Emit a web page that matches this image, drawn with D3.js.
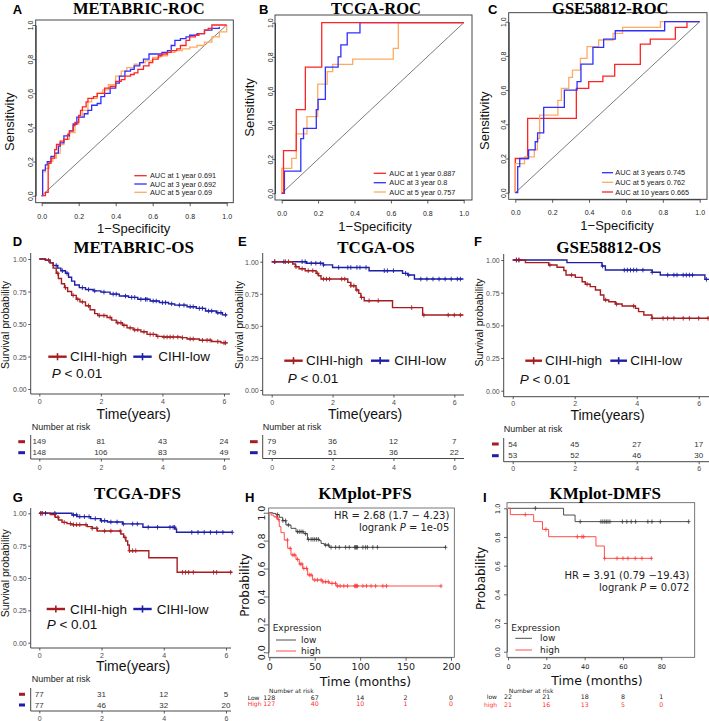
<!DOCTYPE html>
<html><head><meta charset="utf-8">
<script src="https://cdn.jsdelivr.net/npm/d3@7"></script>
<style>body{margin:0;background:#fff}svg{display:block}</style>
</head><body>
<svg id="c" width="709" height="721"></svg>
<script>
// ================= DATA =================
const rocTicks = [0, 0.2, 0.4, 0.6, 0.8, 1.0];
// ROC curves: [1-specificity, sensitivity] at each vertical jump
const metabricRoc1y = [[0,0],[0.02,0.02],[0.035,0.19],[0.05,0.22],[0.07,0.27],[0.08,0.3],[0.1,0.32],[0.12,0.33],[0.14,0.36],[0.15,0.38],[0.17,0.41],[0.18,0.43],[0.2,0.47],[0.21,0.5],[0.22,0.52],[0.24,0.55],[0.25,0.57],[0.28,0.58],[0.3,0.6],[0.34,0.63],[0.37,0.64],[0.4,0.67],[0.43,0.68],[0.45,0.7],[0.48,0.71],[0.5,0.72],[0.52,0.74],[0.55,0.76],[0.58,0.78],[0.6,0.8],[0.63,0.82],[0.65,0.83],[0.68,0.84],[0.7,0.85],[0.73,0.86],[0.75,0.88],[0.78,0.91],[0.8,0.93],[0.83,0.94],[0.85,0.95],[0.88,0.97],[0.9,0.98],[0.92,1.0],[1.0,1.0]];
const metabricRoc3y = [[0,0],[0.005,0.15],[0.02,0.18],[0.03,0.2],[0.05,0.23],[0.07,0.25],[0.09,0.29],[0.1,0.31],[0.12,0.35],[0.15,0.38],[0.17,0.42],[0.19,0.46],[0.23,0.48],[0.25,0.5],[0.27,0.53],[0.3,0.54],[0.32,0.58],[0.34,0.6],[0.37,0.63],[0.4,0.66],[0.42,0.7],[0.45,0.73],[0.48,0.74],[0.5,0.76],[0.53,0.78],[0.55,0.8],[0.58,0.83],[0.65,0.84],[0.68,0.85],[0.7,0.88],[0.72,0.91],[0.75,0.92],[0.78,0.93],[0.8,0.94],[0.84,0.95],[0.88,0.97],[0.92,0.98],[0.96,0.99]];
const metabricRoc5y = [[0,0],[0.005,0.14],[0.02,0.16],[0.04,0.2],[0.06,0.22],[0.08,0.25],[0.1,0.3],[0.12,0.33],[0.15,0.37],[0.18,0.42],[0.2,0.46],[0.22,0.5],[0.25,0.55],[0.27,0.57],[0.3,0.6],[0.33,0.62],[0.36,0.65],[0.4,0.7],[0.43,0.73],[0.46,0.75],[0.5,0.77],[0.53,0.78],[0.56,0.79],[0.6,0.81],[0.64,0.82],[0.68,0.84],[0.72,0.85],[0.76,0.86],[0.8,0.87],[0.84,0.88],[0.88,0.9],[0.92,0.93],[0.96,0.96],[1.0,1.0]];
const metabricRocLabels = ["AUC at 1 year 0.691", "AUC at 3 year 0.692", "AUC at 5 year 0.69"];

const tcgaRoc1y = [[0,0],[0.01,0.25],[0.08,0.49],[0.13,0.74],[0.22,1.0],[1.0,1.0]];
const tcgaRoc3y = [[0,0],[0.015,0.13],[0.105,0.32],[0.12,0.38],[0.19,0.49],[0.2,0.55],[0.24,0.74],[0.31,0.8],[0.325,0.87],[0.36,0.94],[0.43,1.0],[1.0,1.0]];
const tcgaRoc5y = [[0,0],[0.0,0.146],[0.055,0.205],[0.08,0.348],[0.139,0.45],[0.198,0.64],[0.25,0.713],[0.28,0.756],[0.39,0.787],[0.613,0.85],[0.641,1.0],[1.0,1.0]];
const tcgaRocLabels = ["AUC at 1 year 0.887", "AUC at 3 year 0.8", "AUC at 5 year 0.757"];

const gseRoc3y = [[0,0],[0.013,0.152],[0.024,0.2],[0.072,0.25],[0.108,0.298],[0.121,0.35],[0.154,0.499],[0.266,0.6],[0.335,0.649],[0.356,0.752],[0.421,0.85],[0.479,0.898],[0.542,0.947],[0.81,1.0],[1.0,1.0]];
const gseRoc5y = [[0,0],[0.0,0.17],[0.05,0.21],[0.103,0.25],[0.12,0.318],[0.132,0.454],[0.231,0.54],[0.25,0.61],[0.29,0.674],[0.31,0.717],[0.353,0.785],[0.389,0.854],[0.452,0.893],[0.53,0.932],[0.582,0.967],[0.787,1.0],[1.0,1.0]];
const gseRoc10y = [[0,0],[0.0,0.2],[0.067,0.435],[0.331,0.61],[0.398,0.649],[0.475,0.682],[0.539,0.75],[0.678,0.869],[0.732,0.898],[0.868,0.967],[0.931,1.0],[1.0,1.0]];
const gseRocLabels = ["AUC at 3 years 0.745", "AUC at 5 years 0.762", "AUC at 10 years 0.665"];

const kmYearTicks = [0, 2, 4, 6];
const kmProbTicks = [0, 0.25, 0.5, 0.75, 1.0];
const groupLabels = ["CIHI-high", "CIHI-low"];

// KM steps: [time, survival after drop]
const metabricOsHigh = [[0,1],[0.2,0.99],[0.35,0.97],[0.45,0.93],[0.55,0.89],[0.62,0.85],[0.72,0.81],[0.82,0.78],[0.92,0.75],[1.05,0.72],[1.2,0.69],[1.32,0.67],[1.5,0.64],[1.65,0.61],[1.8,0.58],[1.9,0.565],[2.2,0.55],[2.35,0.53],[2.5,0.51],[2.7,0.49],[2.85,0.47],[3.05,0.455],[3.3,0.44],[3.5,0.42],[3.8,0.405],[4.0,0.4],[4.6,0.395],[4.8,0.385],[5.2,0.375],[5.6,0.365],[5.9,0.355],[6.1,0.35]];
const metabricOsLow = [[0,1],[0.2,0.99],[0.35,0.97],[0.45,0.95],[0.6,0.93],[0.7,0.91],[0.85,0.89],[0.95,0.86],[1.05,0.83],[1.15,0.8],[1.3,0.78],[1.5,0.765],[1.75,0.755],[2.0,0.745],[2.3,0.73],[2.6,0.715],[2.9,0.705],[3.2,0.69],[3.6,0.677],[3.9,0.665],[4.2,0.655],[4.4,0.645],[4.8,0.633],[5.1,0.62],[5.4,0.6],[5.75,0.587],[5.95,0.57],[6.1,0.57]];
const metabricOsHighCens = [0.3,0.6,0.85,1.1,1.25,1.4,1.6,1.95,2.1,2.3,2.55,2.65,2.75,2.95,3.1,3.2,3.4,3.6,3.7,3.85,4.05,4.15,4.25,4.35,4.5,4.65,4.9,5.0,5.3,5.45,5.55,5.8,6.0,6.05];
const metabricOsLowCens = [0.55,0.75,0.9,1.4,1.6,1.8,2.1,2.4,2.5,2.8,3.0,3.1,3.3,3.45,3.5,3.7,3.8,4.0,4.1,4.3,4.55,4.7,4.9,5.0,5.2,5.3,5.5,5.6,5.8,5.9,6.05];
const metabricRiskHigh = [149, 81, 43, 24];
const metabricRiskLow = [148, 106, 83, 49];

const tcgaOsHigh = [[0,1],[0.69,0.982],[0.78,0.961],[0.9,0.945],[1.1,0.93],[1.46,0.909],[1.54,0.89],[1.62,0.865],[2.5,0.839],[2.6,0.813],[2.77,0.78],[2.86,0.753],[2.93,0.722],[3.04,0.696],[3.97,0.642],[4.96,0.584],[6.3,0.584]];
const tcgaOsLow = [[0,1],[1.15,0.988],[1.7,0.975],[2.0,0.955],[3.2,0.93],[4.3,0.909],[4.47,0.896],[4.69,0.865],[6.3,0.865]];
const tcgaOsHighCens = [0.1,0.45,0.55,0.8,1.0,1.2,1.35,1.5,1.7,1.8,1.9,2.3,2.4,2.6,2.7,2.8,2.95,3.2,3.5,4.6,5.0,5.8,6.0,6.2];
const tcgaOsLowCens = [0.1,0.4,1.0,1.1,1.3,1.45,1.6,1.7,2.2,2.5,2.6,2.8,2.9,3.1,3.7,3.8,4.0,4.4,4.5,4.9,5.1,5.3,5.5,5.7,5.9,6.1,6.2];
const tcgaOsRiskHigh = [79, 36, 12, 7];
const tcgaOsRiskLow = [79, 51, 36, 22];

const gseOsHigh = [[0,1],[0.41,0.98],[1.16,0.962],[1.43,0.944],[1.65,0.92],[1.72,0.885],[2.02,0.867],[2.24,0.834],[2.34,0.814],[2.5,0.796],[2.67,0.77],[2.83,0.732],[2.94,0.694],[3.1,0.681],[3.31,0.663],[3.53,0.648],[3.96,0.63],[4.06,0.605],[4.23,0.579],[4.49,0.554],[6.4,0.554]];
const gseOsLow = [[0,1],[1.75,0.98],[2.88,0.954],[2.99,0.923],[4.5,0.906],[4.76,0.885],[6.2,0.852],[6.4,0.852]];
const gseOsHighCens = [0.12,0.2,1.2,1.9,2.4,3.0,3.35,3.9,4.5,4.85,5.0,5.2,5.5,5.7,6.0,6.3];
const gseOsLowCens = [0.12,0.2,2.9,3.6,3.7,3.8,3.9,4.0,4.2,4.5,5.0,5.2,5.3,5.5,5.6,5.7,5.8,6.25];
const gseOsRiskHigh = [54, 45, 27, 17];
const gseOsRiskLow = [53, 52, 46, 30];

const tcgaDfsHigh = [[0,1],[0.35,0.99],[0.51,0.969],[0.62,0.948],[0.73,0.93],[0.89,0.92],[1.05,0.912],[1.54,0.897],[1.7,0.884],[1.86,0.863],[2.62,0.84],[2.71,0.814],[2.78,0.786],[2.84,0.755],[2.89,0.711],[3.52,0.657],[4.43,0.544],[6.2,0.544]];
const tcgaDfsLow = [[0,1],[1.05,0.987],[1.21,0.974],[1.65,0.959],[1.97,0.943],[2.19,0.933],[2.68,0.918],[3.33,0.892],[4.36,0.879],[4.41,0.853],[6.2,0.853]];
const tcgaDfsHighCens = [0.05,0.1,0.5,0.6,0.8,1.0,1.1,1.2,1.3,1.5,1.7,1.85,2.1,2.3,2.6,2.75,2.9,3.0,3.1,4.6,4.7,4.8,4.95,5.6,5.7,6.15];
const tcgaDfsLowCens = [0.05,0.2,0.5,1.1,1.2,1.3,1.45,1.6,1.8,2.0,2.1,2.3,2.5,2.7,3.0,3.15,3.5,3.8,4.2,4.3,4.35,4.9,5.1,5.3,5.5,5.7,5.9,6.2];
const tcgaDfsRiskHigh = [77, 31, 12, 5];
const tcgaDfsRiskLow = [77, 46, 32, 20];

const kmpProbTicks = [0, 0.2, 0.4, 0.6, 0.8, 1.0];
const expressionLabels = ["low", "high"];

const pfsTicks = [0, 50, 100, 150, 200];
const pfsLow = [[0,1],[3.7,0.995],[7.3,0.986],[11,0.967],[14.7,0.943],[18.3,0.912],[23.9,0.888],[29.4,0.864],[38,0.85],[42,0.809],[55,0.8],[57,0.78],[60.5,0.768],[66,0.752],[194.5,0.752]];
const pfsHigh = [[0,1],[2,0.983],[5,0.97],[9.2,0.952],[11,0.9],[12.8,0.857],[16.5,0.804],[20.2,0.745],[23.9,0.697],[29.4,0.666],[33,0.632],[36.7,0.601],[42.2,0.554],[47.7,0.518],[58.7,0.505],[66,0.494],[73.4,0.475],[189,0.475]];
const pfsLowCens = [9,15,18,21,31,33,35,37,40,43,46,48,50,52,54,62,65,68,73,77,84,88,94,95,96,97,103,106,108,114,119,194];
const pfsHighCens = [8,10,20,23,26,28,31,34,36,38,41,44,46,50,53,57,59,62,65,69,73,75,78,82,86,94,95,96,97,103,107,112,117,125,129,189];
const pfsRiskLow = [128, 67, 14, 2, 0];
const pfsRiskHigh = [127, 40, 10, 1, 0];
const pfsRiskLabels = ["Low", "High"];

const dmfsTicks = [0, 20, 40, 60, 80];
const dmfsLow = [[0,1],[29,0.953],[35,0.907],[94.3,0.907]];
const dmfsHigh = [[0,1],[1.2,0.956],[13.4,0.907],[18,0.853],[21.2,0.802],[45.9,0.737],[50.3,0.651],[75.1,0.651]];
const dmfsLowCens = [14.3,37.7,48.5,49.5,50.5,51.3,52.2,53.2,59.7,62,64.3,66.6,73,75.1,79.5,94.3];
const dmfsHighCens = [9,19.8,36.2,38.6,39.5,50.4,56.9,60,62.6,66.4,69.9,74.8];
const dmfsRiskLow = [22, 21, 18, 8, 1];
const dmfsRiskHigh = [21, 16, 13, 5, 0];
const dmfsRiskLabels = ["low", "high"];

// ================= DRAWING =================
const SANS = '"Liberation Sans", Arial, Helvetica, sans-serif';
const SERIF = '"Liberation Serif", "Times New Roman", serif';
const DJ = '"DejaVu Sans", Verdana, sans-serif';
const svg = d3.select('#c');

function txt(g, x, y, s, o = {}) {
  const t = g.append('text').attr('x', x).attr('y', y).text(s)
    .attr('font-family', o.font || SANS).attr('font-size', o.size || 10)
    .attr('fill', o.fill || '#000').attr('text-anchor', o.anchor || 'start')
    .attr('dominant-baseline', 'central');
  if (o.weight) t.attr('font-weight', o.weight);
  if (o.rotate) t.attr('transform', `rotate(-90 ${x} ${y})`);
  return t;
}
function survAt(steps, t) {
  let s = steps[0][1];
  for (const d of steps) { if (d[0] <= t) s = d[1]; else break; }
  return s;
}
function crosses(g, steps, cens, x, y, color, hw, hh, sw) {
  g.append('path').attr('fill', 'none').attr('stroke', color).attr('stroke-width', sw)
    .attr('d', cens.map(t => {
      const px = x(t), py = y(survAt(steps, t));
      return `M${px - hw},${py}H${px + hw}M${px},${py - hh}V${py + hh}`;
    }).join(''));
}

// ---------- ROC ----------
const rocColors = { red: '#FF2424', blue: '#2F2FFF', orange: '#FFAA62' };
function rocPanel(L, curves, labels, colors) {
  const g = svg.append('g');
  const x = d3.scaleLinear().domain([0, 1]).range([L.x0, L.x1]);
  const y = d3.scaleLinear().domain([0, 1]).range([L.y0, L.y1]);
  g.append('rect').attr('x', L.bx0).attr('y', L.by0).attr('width', L.bx1 - L.bx0).attr('height', L.by1 - L.by0)
    .attr('fill', 'none').attr('stroke', '#333').attr('stroke-width', 0.9);
  const xa = g.append('g').attr('transform', `translate(0,${L.by1})`)
    .call(d3.axisBottom(x).tickValues(rocTicks).tickFormat(d3.format('.1f')).tickSize(3.5).tickSizeOuter(0));
  const ya = g.append('g').attr('transform', `translate(${L.bx0},0)`)
    .call(d3.axisLeft(y).tickValues(rocTicks).tickFormat(d3.format('.1f')).tickSize(2.5).tickSizeOuter(0));
  [xa, ya].forEach(a => { a.select('.domain').attr('stroke', '#333').attr('stroke-width', 0.9); a.selectAll('.tick line').attr('stroke', '#333').attr('stroke-width', 0.8); });
  xa.selectAll('text').attr('y', 13.5).attr('dy', null).attr('dominant-baseline', 'central')
    .attr('font-family', SANS).attr('font-size', 7).attr('fill', '#222');
  ya.selectAll('text').attr('x', 0).attr('dy', null).attr('text-anchor', 'middle').attr('dominant-baseline', 'central')
    .attr('transform', 'translate(-5,0) rotate(-90)').attr('font-family', SANS).attr('font-size', 7).attr('fill', '#222');
  g.append('line').attr('x1', x(0)).attr('y1', y(0)).attr('x2', x(1)).attr('y2', y(1)).attr('stroke', '#444').attr('stroke-width', 0.7);
  const line = d3.line().x(d => x(d[0])).y(d => y(d[1])).curve(d3.curveStepAfter);
  for (let i = curves.length - 1; i >= 0; i--) {
    g.append('path').datum(curves[i]).attr('d', line).attr('fill', 'none').attr('stroke', colors[i]).attr('stroke-width', 1.3);
  }
  labels.forEach((lab, i) => {
    g.append('line').attr('x1', L.legX0).attr('x2', L.legX1).attr('y1', L.legY[i]).attr('y2', L.legY[i]).attr('stroke', colors[i]).attr('stroke-width', 1.3);
    txt(g, L.legTX, L.legY[i], lab, { size: 7.3, fill: '#222' });
  });
  txt(g, L.tx, L.ty, L.title, { font: SERIF, size: 16.5, weight: 'bold', anchor: 'middle' });
  txt(g, L.xlabX, L.xlabY, '1\u2212Specificity', { size: 13, anchor: 'middle', fill: '#111' });
  txt(g, L.ylabX, L.ylabY, 'Sensitivity', { size: 13, anchor: 'middle', rotate: true, fill: '#111' });
  txt(g, L.labX, L.labY, L.lab, { size: 13, weight: 'bold' });
}

rocPanel({ bx0: 35.7, bx1: 233.3, by0: 20, by1: 202.7, x0: 41.7, x1: 226.7, y0: 195.7, y1: 25,
  title: 'METABRIC-ROC', tx: 138.8, ty: 8.6, xlabX: 133.7, xlabY: 228, ylabX: 9.5, ylabY: 121.7,
  legX0: 134.3, legX1: 146.7, legTX: 150, legY: [175.7, 184, 192.3], lab: 'A', labX: 12.7, labY: 9.8 },
  [metabricRoc1y, metabricRoc3y, metabricRoc5y], metabricRocLabels, [rocColors.red, rocColors.blue, rocColors.orange]);
rocPanel({ bx0: 275, bx1: 472, by0: 15, by1: 200, x0: 281.7, x1: 463.7, y0: 193.3, y1: 22.7,
  title: 'TCGA-ROC', tx: 376, ty: 8.6, xlabX: 375, xlabY: 226.7, ylabX: 249.3, ylabY: 107.5,
  legX0: 373.7, legX1: 386, legTX: 389.3, legY: [173.3, 182.7, 192], lab: 'B', labX: 259, labY: 9.8 },
  [tcgaRoc1y, tcgaRoc3y, tcgaRoc5y], tcgaRocLabels, [rocColors.red, rocColors.blue, rocColors.orange]);
rocPanel({ bx0: 508.7, bx1: 707, by0: 12.7, by1: 199.3, x0: 515.3, x1: 699.7, y0: 192.7, y1: 21.7,
  title: 'GSE58812-ROC', tx: 610.3, ty: 8.4, xlabX: 617, xlabY: 225, ylabX: 484.7, ylabY: 120.7,
  legX0: 602, legX1: 613, legTX: 615.3, legY: [172.7, 182.3, 192], lab: 'C', labX: 488, labY: 9.5 },
  [gseRoc3y, gseRoc5y, gseRoc10y], gseRocLabels, [rocColors.blue, rocColors.orange, rocColors.red]);

// ---------- survminer KM ----------
const smRed = '#A51D21', smBlue = '#1D1FA6';
function smPanel(L, hi, lo, hiC, loC, riskHi, riskLo) {
  const g = svg.append('g');
  const x = d3.scaleLinear().domain([0, 6]).range([L.x0, L.x1]);
  const y = d3.scaleLinear().domain([0, 1]).range([L.y0, L.y1]);
  const axc = '#333';
  g.append('line').attr('x1', L.ax).attr('x2', L.ax).attr('y1', L.ayTop).attr('y2', L.ay).attr('stroke', axc).attr('stroke-width', 0.9);
  g.append('line').attr('x1', L.ax).attr('x2', L.axEnd).attr('y1', L.ay).attr('y2', L.ay).attr('stroke', axc).attr('stroke-width', 0.9);
  const ya = g.append('g').attr('transform', `translate(${L.ax},0)`)
    .call(d3.axisLeft(y).tickValues(kmProbTicks).tickFormat(d3.format('.2f')).tickSize(2.5).tickSizeOuter(0));
  const xa = g.append('g').attr('transform', `translate(0,${L.ay})`)
    .call(d3.axisBottom(x).tickValues(kmYearTicks).tickFormat(d3.format('d')).tickSize(2.5).tickSizeOuter(0));
  [xa, ya].forEach(a => { a.select('.domain').remove(); a.selectAll('.tick line').attr('stroke', axc).attr('stroke-width', 0.8); });
  ya.selectAll('text').attr('x', -4).attr('dy', null).attr('dominant-baseline', 'central').attr('font-family', SANS).attr('font-size', 7).attr('fill', '#4D4D4D');
  xa.selectAll('text').attr('y', 7).attr('dy', null).attr('dominant-baseline', 'central').attr('font-family', SANS).attr('font-size', 7).attr('fill', '#4D4D4D');
  const line = d3.line().x(d => x(d[0])).y(d => y(d[1])).curve(d3.curveStepAfter);
  g.append('path').datum(lo).attr('d', line).attr('fill', 'none').attr('stroke', smBlue).attr('stroke-width', 1.4);
  g.append('path').datum(hi).attr('d', line).attr('fill', 'none').attr('stroke', smRed).attr('stroke-width', 1.4);
  crosses(g, lo, loC, x, y, smBlue, 2, 2.3, 0.9);
  crosses(g, hi, hiC, x, y, smRed, 2, 2.3, 0.9);
  // legend
  [[L.k1, L.t1, smRed, groupLabels[0]], [L.k2, L.t2, smBlue, groupLabels[1]]].forEach(([k, tx, c, lab]) => {
    g.append('line').attr('x1', k[0]).attr('x2', k[1]).attr('y1', L.legY).attr('y2', L.legY).attr('stroke', c).attr('stroke-width', 2.4);
    const m = (k[0] + k[1]) / 2;
    g.append('line').attr('x1', m).attr('x2', m).attr('y1', L.legY - 3.6).attr('y2', L.legY + 3.6).attr('stroke', c).attr('stroke-width', 1.6);
    txt(g, tx, L.legY, lab, { size: 13.5, fill: '#111' });
  });
  const p = txt(g, L.px, L.py, '', { size: 13.5, fill: '#111' });
  p.append('tspan').attr('font-style', 'italic').text('P');
  p.append('tspan').text(' < 0.01');
  txt(g, L.tx, L.ty, L.title, { font: SERIF, size: 17, weight: 'bold', anchor: 'middle' });
  txt(g, L.xlabX, L.xlabY, 'Time(years)', { size: 14, anchor: 'middle', fill: '#111' });
  txt(g, L.ylabX, L.ylabY, 'Survival probability', { size: 10.5, anchor: 'middle', rotate: true, fill: '#111' });
  // risk table
  txt(g, L.narX, L.narY, 'Number at risk', { size: 9, fill: '#222' });
  [[riskHi, smRed], [riskLo, smBlue]].forEach(([r, c], i) => {
    g.append('rect').attr('x', L.dash[0]).attr('width', L.dash[1] - L.dash[0]).attr('y', L.rows[i] - 1.5).attr('height', 3).attr('fill', c);
    r.forEach((v, j) => txt(g, x(kmYearTicks[j]), L.rows[i], v, { size: 8, anchor: 'middle', fill: '#333' }));
  });
  g.append('line').attr('x1', L.ax).attr('x2', L.ax).attr('y1', L.rtTop).attr('y2', L.rtBot).attr('stroke', axc).attr('stroke-width', 0.9);
  g.append('line').attr('x1', L.ax).attr('x2', L.axEnd).attr('y1', L.rtBot).attr('y2', L.rtBot).attr('stroke', axc).attr('stroke-width', 0.9);
  const ra = g.append('g').attr('transform', `translate(0,${L.rtBot})`)
    .call(d3.axisBottom(x).tickValues(kmYearTicks).tickFormat(d3.format('d')).tickSize(2.5).tickSizeOuter(0));
  ra.select('.domain').remove();
  ra.selectAll('.tick line').attr('stroke', axc).attr('stroke-width', 0.8);
  ra.selectAll('text').attr('y', L.rtLab - L.rtBot).attr('dy', null).attr('dominant-baseline', 'central').attr('font-family', SANS).attr('font-size', 7).attr('fill', '#4D4D4D');
  txt(g, L.labX, L.labY, L.lab, { size: 13, weight: 'bold' });
}

smPanel({ ax: 30.7, ay: 394, ayTop: 253, axEnd: 230, x0: 39.3, x1: 224, y0: 389, y1: 259,
  title: 'METABRIC-OS', tx: 133.7, ty: 247, ylabX: 5, ylabY: 325, xlabX: 133.7, xlabY: 414,
  k1: [48.3, 66.7], t1: 70, k2: [133.3, 151.7], t2: 158.3, legY: 356.7, px: 51.7, py: 373.3,
  narX: 31.7, narY: 426.7, rows: [441.7, 452.7], dash: [18.3, 25], rtTop: 435, rtBot: 459, rtLab: 467,
  lab: 'D', labX: 12.7, labY: 241 },
  metabricOsHigh, metabricOsLow, metabricOsHighCens, metabricOsLowCens, metabricRiskHigh, metabricRiskLow);
smPanel({ ax: 262.7, ay: 395, ayTop: 253, axEnd: 464, x0: 271.7, x1: 454.3, y0: 390, y1: 261.7,
  title: 'TCGA-OS', tx: 376, ty: 247, ylabX: 239, ylabY: 325, xlabX: 365, xlabY: 414,
  k1: [284.3, 302.7], t1: 306, k2: [371, 389.3], t2: 394.3, legY: 360.7, px: 287.7, py: 378.3,
  narX: 262.7, narY: 426.7, rows: [441.7, 452.7], dash: [250, 257.7], rtTop: 435, rtBot: 458.5, rtLab: 467,
  lab: 'E', labX: 238, labY: 241 },
  tcgaOsHigh, tcgaOsLow, tcgaOsHighCens, tcgaOsLowCens, tcgaOsRiskHigh, tcgaOsRiskLow);
smPanel({ ax: 503.7, ay: 396.7, ayTop: 254, axEnd: 709, x0: 512.7, x1: 698.7, y0: 390.7, y1: 260,
  title: 'GSE58812-OS', tx: 608.7, ty: 247, ylabX: 478.7, ylabY: 322.5, xlabX: 607.5, xlabY: 415,
  k1: [525.3, 542], t1: 545, k2: [610.3, 627], t2: 630.3, legY: 360.7, px: 519.7, py: 379.3,
  narX: 503.7, narY: 429.3, rows: [444, 455.7], dash: [492, 498.7], rtTop: 438, rtBot: 461.7, rtLab: 469,
  lab: 'F', labX: 474, labY: 241 },
  gseOsHigh, gseOsLow, gseOsHighCens, gseOsLowCens, gseOsRiskHigh, gseOsRiskLow);
smPanel({ ax: 30.7, ay: 648, ayTop: 508, axEnd: 231, x0: 39.3, x1: 226, y0: 642.7, y1: 513.3,
  title: 'TCGA-DFS', tx: 137.5, ty: 493.3, ylabX: 5, ylabY: 573.3, xlabX: 133, xlabY: 666,
  k1: [46.7, 65], t1: 70, k2: [133.3, 151.7], t2: 156.7, legY: 609, px: 46.7, py: 624,
  narX: 31.7, narY: 679, rows: [694.3, 705], dash: [19, 25], rtTop: 688, rtBot: 711, rtLab: 718,
  lab: 'G', labX: 12.7, labY: 497 },
  tcgaDfsHigh, tcgaDfsLow, tcgaDfsHighCens, tcgaDfsLowCens, tcgaDfsRiskHigh, tcgaDfsRiskLow);

// ---------- KMplot ----------
const kmLow = '#3A3A3A', kmHigh = '#FF3A3A';
function kmpPanel(L, ticks, low, high, lowC, highC, riskLow, riskHigh, riskLabels, hr1, pval) {
  const g = svg.append('g');
  const x = d3.scaleLinear().domain([ticks[0], ticks[ticks.length - 1]]).range([L.x0, L.x1]);
  const y = d3.scaleLinear().domain([0, 1]).range([L.y0, L.y1]);
  g.append('rect').attr('x', L.bx0).attr('y', L.by0).attr('width', L.bx1 - L.bx0).attr('height', L.by1 - L.by0)
    .attr('fill', 'none').attr('stroke', '#555').attr('stroke-width', 0.8);
  const xa = g.append('g').attr('transform', `translate(0,${L.by1})`)
    .call(d3.axisBottom(x).tickValues(ticks).tickFormat(d3.format('d')).tickSize(L.tick).tickSizeOuter(0));
  const ya = g.append('g').attr('transform', `translate(${L.bx0},0)`)
    .call(d3.axisLeft(y).tickValues(kmpProbTicks).tickFormat(d3.format('.1f')).tickSize(L.tick).tickSizeOuter(0));
  [xa, ya].forEach(a => { a.select('.domain').attr('stroke', '#555').attr('stroke-width', 0.8); a.selectAll('.tick line').attr('stroke', '#444').attr('stroke-width', 0.8); });
  xa.selectAll('text').attr('y', L.xtl).attr('dy', null).attr('dominant-baseline', 'central')
    .attr('font-family', DJ).attr('font-size', L.tfs).attr('fill', '#222');
  ya.selectAll('text').attr('x', 0).attr('dy', null).attr('text-anchor', 'middle').attr('dominant-baseline', 'central')
    .attr('transform', `translate(${-L.ytl},0) rotate(-90)`).attr('font-family', DJ).attr('font-size', L.tfs).attr('fill', '#222');
  const line = d3.line().x(d => x(d[0])).y(d => y(d[1])).curve(d3.curveStepAfter);
  g.append('path').datum(low).attr('d', line).attr('fill', 'none').attr('stroke', kmLow).attr('stroke-width', 0.9);
  g.append('path').datum(high).attr('d', line).attr('fill', 'none').attr('stroke', kmHigh).attr('stroke-width', 0.9);
  crosses(g, low, lowC, x, y, kmLow, 1.8, 2.2, 0.8);
  crosses(g, high, highC, x, y, kmHigh, 1.8, 2.2, 0.8);
  txt(g, L.hrX, L.hrY[0], hr1, { font: DJ, size: 10, anchor: 'end', fill: '#222' });
  const p = txt(g, L.hrX, L.hrY[1], '', { font: DJ, size: 10, anchor: 'end', fill: '#222' });
  p.append('tspan').text('logrank ');
  p.append('tspan').attr('font-style', 'italic').text('P');
  p.append('tspan').text(' = ' + pval);
  txt(g, L.expX, L.expY, 'Expression', { font: DJ, size: 9, fill: '#222' });
  [[kmLow, expressionLabels[0]], [kmHigh, expressionLabels[1]]].forEach(([c, lab], i) => {
    g.append('line').attr('x1', L.lk[0]).attr('x2', L.lk[1]).attr('y1', L.legY[i]).attr('y2', L.legY[i]).attr('stroke', c).attr('stroke-width', 0.9);
    txt(g, L.lt, L.legY[i], lab, { font: DJ, size: 9, fill: '#222' });
  });
  txt(g, L.tx, L.ty, L.title, { font: SERIF, size: 17, weight: 'bold', anchor: 'middle' });
  txt(g, L.xlabX, L.xlabY, 'Time (months)', { font: DJ, size: 12.5, anchor: 'middle', fill: '#111' });
  txt(g, L.ylabX, L.ylabY, 'Probability', { font: DJ, size: 12, anchor: 'middle', rotate: true, fill: '#111' });
  txt(g, L.narX, L.narY, 'Number at risk', { font: DJ, size: 6, fill: '#222' });
  [[riskLow, '#222'], [riskHigh, '#FF3030']].forEach(([r, c], i) => {
    txt(g, L.rlX, L.rows[i], riskLabels[i], { font: DJ, size: 6, fill: c, anchor: L.rlAnchor });
    r.forEach((v, j) => txt(g, x(ticks[j]), L.rows[i], v, { font: DJ, size: 6.3, anchor: 'middle', fill: c }));
  });
  txt(g, L.labX, L.labY, L.lab, { size: 13, weight: 'bold' });
}

kmpPanel({ bx0: 268.7, bx1: 454.3, by0: 508, by1: 657.3, x0: 269.3, x1: 451, y0: 652.3, y1: 512.7,
  tick: 3.5, xtl: 9.7, ytl: 7.5, tfs: 9.5, hrX: 449.3, hrY: [515, 526.7],
  expX: 272.7, expY: 628.3, lk: [276, 296], lt: 301, legY: [640, 651],
  title: 'KMplot-PFS', tx: 365, ty: 493.3, xlabX: 365.5, xlabY: 681.7, ylabX: 245, ylabY: 585,
  narX: 269, narY: 690.7, rlX: 247.7, rlAnchor: 'start', rows: [697, 703.7], lab: 'H', labX: 245, labY: 497 },
  pfsTicks, pfsLow, pfsHigh, pfsLowCens, pfsHighCens, pfsRiskLow, pfsRiskHigh, pfsRiskLabels,
  'HR = 2.68 (1.7 \u2212 4.23)', '1e-05');
kmpPanel({ bx0: 507, bx1: 694.7, by0: 502.7, by1: 657.3, x0: 508, x1: 661.3, y0: 651.7, y1: 508.3,
  tick: 3, xtl: 10, ytl: 9, tfs: 6.5, hrX: 689.3, hrY: [575, 586.7],
  expX: 511.3, expY: 628.3, lk: [515.3, 532], lt: 540, legY: [638.3, 650],
  title: 'KMplot-DMFS', tx: 605.3, ty: 493, xlabX: 597, xlabY: 680, ylabX: 481.3, ylabY: 578.3,
  narX: 508.7, narY: 690, rlX: 497, rlAnchor: 'end', rows: [696.7, 704], lab: 'I', labX: 483, labY: 497 },
  dmfsTicks, dmfsLow, dmfsHigh, dmfsLowCens, dmfsHighCens, dmfsRiskLow, dmfsRiskHigh, dmfsRiskLabels,
  'HR = 3.91 (0.79 \u221219.43)', '0.072');
</script>
</body></html>
